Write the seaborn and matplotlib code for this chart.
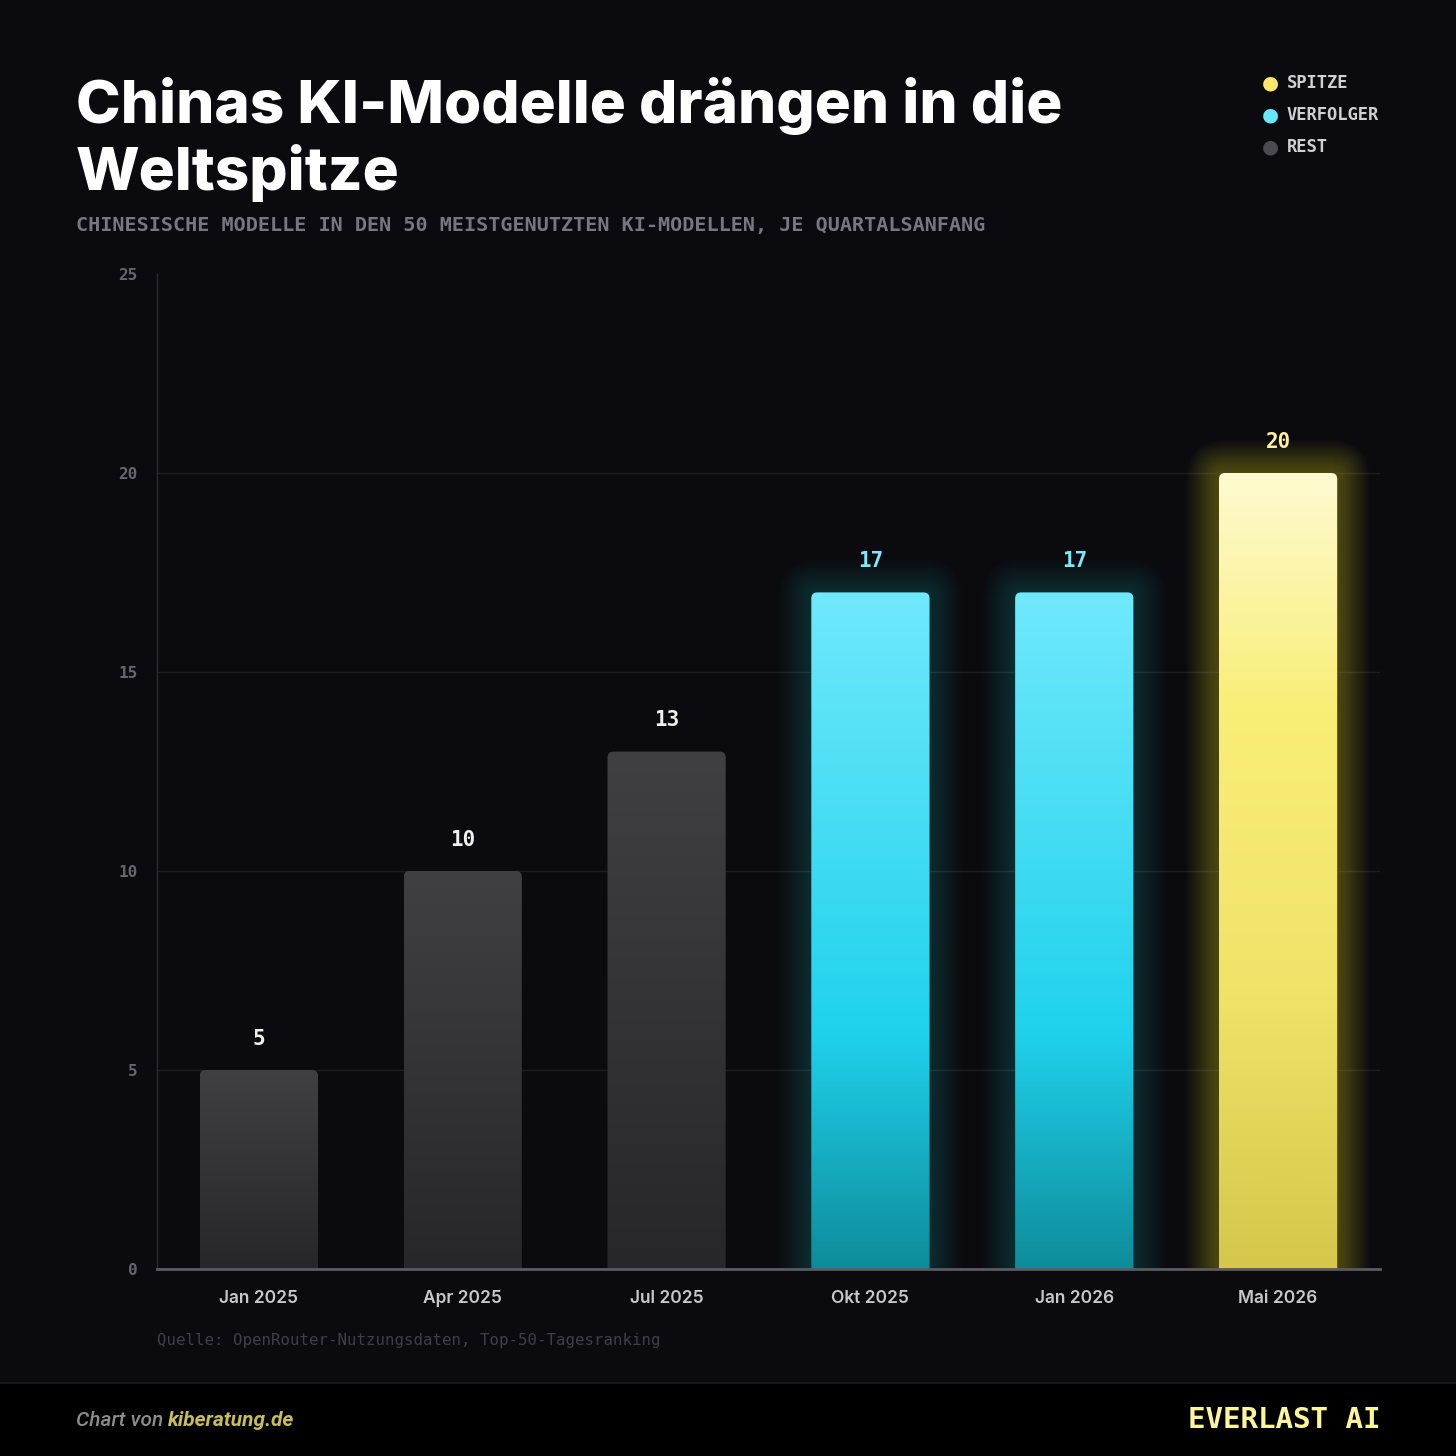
import numpy as np
import pandas as pd
import matplotlib
matplotlib.use("Agg")
import matplotlib.pyplot as plt
import seaborn as sns
from matplotlib.patches import FancyBboxPatch, Rectangle
from matplotlib.colors import LinearSegmentedColormap

# data
months = ["Jan 2025", "Apr 2025", "Jul 2025", "Okt 2025", "Jan 2026", "Mai 2026"]
counts = [5, 10, 13, 17, 17, 20]
tiers = ["REST", "REST", "REST", "VERFOLGER", "VERFOLGER", "SPITZE"]
legend_order = ["SPITZE", "VERFOLGER", "REST"]
y_ticks = [0, 5, 10, 15, 20, 25]

BG = "#0b0b0f"
MONO = "DejaVu Sans Mono"
SANS = "Inter"

dot_colors = {"SPITZE": "#fde768", "VERFOLGER": "#67e8f9", "REST": "#4a4a50"}
# gradient stops, bottom -> top
gradients = {
    "REST": [(0.0, "#27272b"), (1.0, "#3f3f44")],
    "VERFOLGER": [(0.0, "#0e8c9b"), (0.35, "#1fd2ec"), (1.0, "#70e9fc")],
    "SPITZE": [(0.0, "#d5c74b"), (0.35, "#efe36a"), (0.7, "#f9ee76"), (1.0, "#fefad0")],
}
glow_colors = {"VERFOLGER": ("#22d3ee", 0.006), "SPITZE": ("#f5e663", 0.011)}
label_colors = {"REST": "#f0f0f0", "VERFOLGER": "#7ee8fa", "SPITZE": "#fdf0a0"}

df = pd.DataFrame({"month": months, "count": counts, "tier": tiers})

sns.set_theme(style="dark")
W = 1456
fig = plt.figure(figsize=(14.56, 14.56), dpi=100, facecolor=BG)
ax = fig.add_axes([157 / W, 1 - 1269 / W, (1380 - 157) / W, (1269 - 274) / W])
ax.set_facecolor(BG)

sns.barplot(data=df, x="month", y="count", hue="tier", palette=dot_colors,
            dodge=False, width=0.58, legend=False, ax=ax, order=months)

ax.set_xlim(-0.5, 5.5)
ax.set_ylim(0, 25)

# pixel -> data conversions for rounded corners
px_x = 6 / 1223
px_y = 25 / 995
aspect = px_y / px_x

bars = list(ax.patches)
for p in bars:
    h = p.get_height()
    if np.isnan(h) or h == 0:
        p.remove()
        continue
    x0, w = p.get_x(), p.get_width()
    idx = int(round(x0 + w / 2))
    tier = tiers[idx]
    p.remove()

    # soft glow
    if tier in glow_colors:
        gc, ga = glow_colors[tier]
        for k in range(1, 34):
            pad = k * 1.0 * px_x
            g = FancyBboxPatch((x0, -0.5), w, h + 0.5,
                               boxstyle=f"round,pad={pad},rounding_size={6 * px_x + pad}",
                               mutation_aspect=aspect, facecolor=gc, edgecolor="none",
                               alpha=ga, zorder=1)
            ax.add_patch(g)

    shape = FancyBboxPatch((x0, -0.5), w, h + 0.5,
                           boxstyle=f"round,pad=0,rounding_size={6 * px_x}",
                           mutation_aspect=aspect, facecolor="none", edgecolor="none",
                           zorder=2)
    ax.add_patch(shape)
    cmap = LinearSegmentedColormap.from_list(tier, gradients[tier])
    grad = np.linspace(1, 0, 256).reshape(-1, 1)
    im = ax.imshow(grad, cmap=cmap, vmin=0, vmax=1, aspect="auto",
                   extent=[x0, x0 + w, 0, h], zorder=2, interpolation="bicubic")
    im.set_clip_path(shape)

    ax.annotate(f"{int(h)}", xy=(x0 + w / 2, h), xytext=(0, 22.5), textcoords="offset points",
                ha="center", va="center", fontsize=15, fontweight="bold",
                family=MONO, color=label_colors[tier], zorder=5)

ax.set_xlim(-0.5, 5.5)
ax.set_ylim(0, 25)

# axes styling
ax.set_yticks(y_ticks)
ax.set_yticklabels([str(t) for t in y_ticks], family=MONO, fontsize=11.5,
                   fontweight="bold", color="#66666d")
ax.set_xticks(range(len(months)))
ax.set_xticklabels(months, family=SANS, fontsize=12.5, fontweight="semibold", color="#c8c8cc")
ax.tick_params(axis="y", length=0, pad=14)
ax.tick_params(axis="x", length=0, pad=15)
ax.set_xlabel("")
ax.set_ylabel("")
ax.grid(axis="y", color="#1d1d22", linewidth=1)
ax.grid(axis="x", visible=False)
ax.get_ygridlines()[-1].set_visible(False)
ax.set_axisbelow(True)
for s in ["top", "right"]:
    ax.spines[s].set_visible(False)
ax.spines["left"].set_color("#2a2a2f")
ax.spines["left"].set_linewidth(1)
ax.spines["bottom"].set_color("#5a5a60")
ax.spines["bottom"].set_linewidth(2)
ax.spines["bottom"].set_zorder(6)

# title and subtitle
fig.text(76 / W, 1 - 123 / W, "Chinas KI-Modelle drängen in die",
         family=SANS, fontweight="heavy", fontsize=43.3, color="white",
         ha="left", va="baseline")
fig.text(76 / W, 1 - 190 / W, "Weltspitze",
         family=SANS, fontweight="heavy", fontsize=43.3, color="white",
         ha="left", va="baseline")
fig.text(76 / W, 1 - 226 / W, "CHINESISCHE MODELLE IN DEN 50 MEISTGENUTZTEN KI-MODELLEN, JE QUARTALSANFANG",
         family=MONO, fontweight="bold", fontsize=14.5, color="#77777e", ha="left", va="center")

# legend
for i, t in enumerate(legend_order):
    yy = 1 - (83 + 32 * i) / W
    fig.text(1270 / W, yy, "\u25cf", fontsize=14, color=dot_colors[t], ha="center", va="center",
             family="DejaVu Sans")
    fig.text(1287 / W, yy, t, family=MONO, fontweight="bold", fontsize=12.3, color="#cfcfd4",
             ha="left", va="center")

# source
fig.text(157 / W, 1 - 1340 / W, "Quelle: OpenRouter-Nutzungsdaten, Top-50-Tagesranking",
         family=MONO, fontsize=11.3, color="#3f3f46", ha="left", va="center")

# footer band
fig.patches.append(Rectangle((0, 0), 1, 73 / W, transform=fig.transFigure,
                             facecolor="#000000", edgecolor="none", zorder=0))
fig.patches.append(Rectangle((0, 72 / W), 1, 2 / W, transform=fig.transFigure,
                             facecolor="#16161b", edgecolor="none", zorder=0))
t1 = fig.text(76 / W, 1 - 1421 / W, "Chart von ", family="Roboto", style="italic",
              fontweight="medium", fontsize=15, color="#8c8c8c", ha="left", va="center")
fig.canvas.draw()
bb = t1.get_window_extent().transformed(fig.transFigure.inverted())
fig.text(bb.x1, 1 - 1421 / W, "kiberatung.de", family="Roboto", style="italic",
         fontweight="bold", fontsize=15, color="#c9bd55", ha="left", va="center")
fig.text(1380 / W, 1 - 1420 / W, "EVERLAST AI", family=MONO, fontweight="bold", fontsize=21,
         color="#fdf59a", ha="right", va="center")

fig.savefig("out.png", dpi=100, facecolor=BG)
